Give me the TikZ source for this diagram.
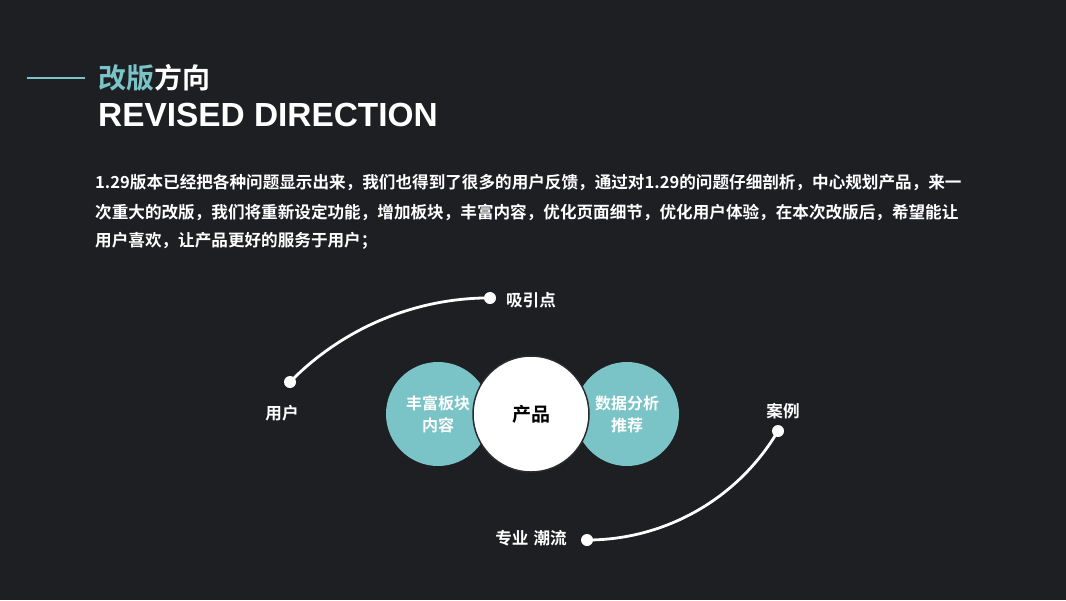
\documentclass[tikz,border=0pt]{standalone}
\usepackage{fontspec}
\setmainfont{Liberation Sans}
\newfontfamily\cjk{Noto Sans CJK SC}[BoldFont={Noto Sans CJK SC Bold}]
\definecolor{bgc}{HTML}{1E1F23}
\definecolor{tealc}{HTML}{7AC3C6}
\definecolor{ringc}{HTML}{2A2B2F}
\begin{document}
\begin{tikzpicture}[x=1pt,y=1pt,
  txt/.style={inner sep=0pt, text=white, font=\cjk\bfseries\fontsize{16.6}{20}\selectfont},
  para/.style={txt, anchor=west},
  bubble/.style={circle, fill=tealc, minimum size=104pt, inner sep=0pt},
  center bubble/.style={circle, fill=white, draw=ringc, line width=1.5pt, minimum size=116pt, inner sep=0pt},
  dot/.style={circle, fill=white, minimum size=12pt, inner sep=0pt},
  curve/.style={white, line width=2.8pt, line cap=round},
  inbubble/.style={txt, align=center, font=\cjk\bfseries\fontsize{16}{22}\selectfont}
]
\useasboundingbox (0,0) rectangle (1066,-600);
\fill[bgc] (0,0) rectangle (1066,-600);

% title
\coordinate (t1) at (27,-78);
\coordinate (t2) at (85,-78);
\draw[tealc, line width=2pt] (t1) -- (t2);
\node[txt, anchor=west, font=\cjk\bfseries\fontsize{28}{30}\selectfont] (title) at (98,-78)
  {\textcolor{tealc}{改版}方向};
\node[inner sep=0pt, anchor=west, text=white, font=\bfseries\fontsize{33.4}{36}\selectfont] (subtitle) at (98,-115)
  {REVISED DIRECTION};

% paragraph
\node[para] (p1) at (95,-183) {1.29版本已经把各种问题显示出来，我们也得到了很多的用户反馈，通过对1.29的问题仔细剖析，中心规划产品，来一};
\node[para] (p2) at (95,-212) {次重大的改版，我们将重新设定功能，增加板块，丰富内容，优化页面细节，优化用户体验，在本次改版后，希望能让};
\node[para] (p3) at (95,-241) {用户喜欢，让产品更好的服务于用户；};

% circles
\node[bubble] (left) at (438,-414) {};
\node[bubble] (right) at (627,-414) {};
\node[center bubble] (mid) at (531,-414) {};
\node[inbubble] (lefttxt) at (left) {丰富板块\\内容};
\node[inbubble] (righttxt) at (right) {数据分析\\推荐};
\node[txt, text=black, font=\cjk\bfseries\fontsize{19}{22}\selectfont] (midtxt) at (mid) {产品};

% upper curve
\node[dot] (u1) at (290,-382) {};
\node[dot] (u2) at (490,-298) {};
\draw[curve] (u1.center) arc[start angle=135.6, end angle=90, radius=280];
\node[txt] (lu1) at (282,-413) {用户};
\node[txt] (lu2) at (531,-300) {吸引点};

% lower curve
\node[dot] (l1) at (587,-540) {};
\node[dot] (l2) at (778,-431) {};
\draw[curve] (l1.center) arc[start angle=-90, end angle=-30.6, radius=221.8];
\node[txt] (ll1) at (531,-538) {专业\hspace{5pt}潮流};
\node[txt] (ll2) at (783,-411) {案例};
\end{tikzpicture}
\end{document}
